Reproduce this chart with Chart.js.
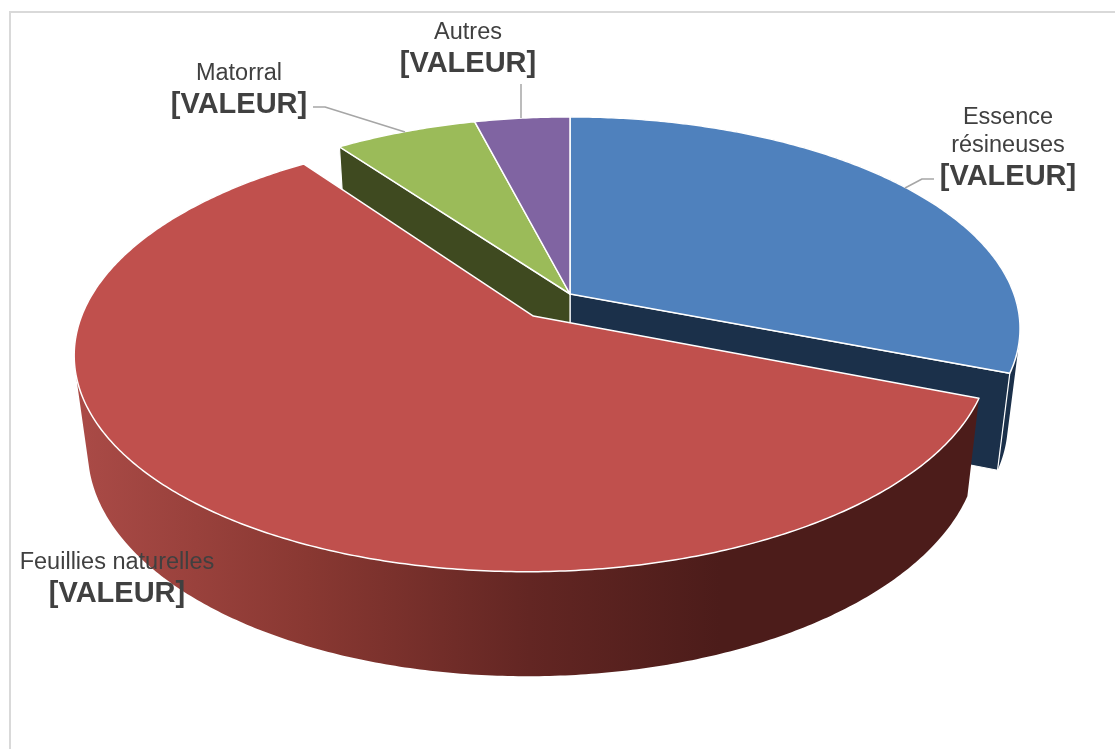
<!DOCTYPE html>
<html lang="fr">
<head>
<meta charset="utf-8">
<title>Répartition des essences</title>
<script src="https://cdn.jsdelivr.net/npm/chart.js@4"></script>
<style>
    html, body { margin: 0; padding: 0; background: #fff; }
    canvas { display: block; }
</style>
</head>
<body>
<canvas id="pieChart" width="1115" height="749"></canvas>
<script>
const categories = ['Essence résineuses', 'Feuillies naturelles', 'Matorral', 'Autres'];
const values = [30.9, 59.1, 6.0, 4.0];
const valueLabel = '[VALEUR]';
const topColors = ['#4F81BD', '#C0504D', '#9BBB59', '#8064A2'];
const sideColors = ['#1B304A', '#4C1C1A', '#3F4A20', '#3F2F55'];
const explode = [0, 59, 0, 0];

// label placement, one entry per slice: text lines then the leader line
const labelLayout = [
    { x: 1008, lines: [['Essence', 124], ['résineuses', 152]], valueY: 185, leader: [[934, 179], [922, 179], [905, 188]] },
    { x: 117, lines: [['Feuillies naturelles', 569]], valueY: 602, leader: null },
    { x: 239, lines: [['Matorral', 80]], valueY: 113, leader: [[313, 107], [325, 107], [405, 132]] },
    { x: 468, lines: [['Autres', 39]], valueY: 72, leader: [[521, 84], [521, 118]] },
];

// camera used to turn the flat pie into the tilted one
const view = { cx: 570, cy: 294, rx: 444, ry: 206, tilt: 0.163, depth: 96, sink: 0.027 };

function project(ux, uy, level) {
    const w = 1 / (1 - view.tilt * uy + view.sink * level);
    return {
        x: view.cx + view.rx * ux * w,
        y: view.cy + (view.ry * uy + view.depth * level) * w,
    };
}

function sliceGeometry(arc) {
    const d = arc.options.offset / view.rx;
    const mid = (arc.startAngle + arc.endAngle) / 2;
    return { ox: Math.cos(mid) * d, oy: Math.sin(mid) * d, start: arc.startAngle, end: arc.endAngle };
}

function rimPoints(g, from, to, level) {
    const pts = [];
    const steps = Math.max(2, Math.ceil(Math.abs(to - from) / 0.01));
    for (let i = 0; i <= steps; i++) {
        const a = from + (to - from) * i / steps;
        pts.push(project(g.ox + Math.cos(a), g.oy + Math.sin(a), level));
    }
    return pts;
}

function tracePath(ctx, pts) {
    ctx.beginPath();
    pts.forEach((p, i) => (i ? ctx.lineTo(p.x, p.y) : ctx.moveTo(p.x, p.y)));
    ctx.closePath();
}

function signedArea(pts) {
    let sum = 0;
    pts.forEach((p, i) => {
        const q = pts[(i + 1) % pts.length];
        sum += p.x * q.y - q.x * p.y;
    });
    return sum;
}

// the wall is swept quad by quad, all in one path, so the side silhouette stays filled
function drawWall(ctx, g, fill) {
    const top = rimPoints(g, g.start, g.end, 0);
    const bottom = rimPoints(g, g.start, g.end, 1);
    ctx.beginPath();
    for (let i = 0; i < top.length - 1; i++) {
        const quad = [top[i], top[i + 1], bottom[i + 1], bottom[i]];
        if (signedArea(quad) < 0) quad.reverse();
        quad.forEach((p, j) => (j ? ctx.lineTo(p.x, p.y) : ctx.moveTo(p.x, p.y)));
        ctx.closePath();
    }
    ctx.fillStyle = fill;
    ctx.fill();
}

function drawFace(ctx, g, angle, fill) {
    const rimTop = project(g.ox + Math.cos(angle), g.oy + Math.sin(angle), 0);
    const rimBottom = project(g.ox + Math.cos(angle), g.oy + Math.sin(angle), 1);
    tracePath(ctx, [project(g.ox, g.oy, 0), rimTop, rimBottom, project(g.ox, g.oy, 1)]);
    ctx.fillStyle = fill;
    ctx.fill();
    ctx.strokeStyle = '#fff';
    ctx.lineWidth = 1.2;
    ctx.stroke();
}

function drawTop(ctx, g, fill) {
    tracePath(ctx, [project(g.ox, g.oy, 0)].concat(rimPoints(g, g.start, g.end, 0)));
    ctx.fillStyle = fill;
    ctx.fill();
    ctx.strokeStyle = '#fff';
    ctx.lineWidth = 1.5;
    ctx.stroke();
}

const pie3d = {
    id: 'pie3d',
    beforeDatasetsDraw(chart) {
        const ctx = chart.ctx;
        const arcs = chart.getDatasetMeta(0).data;
        const geo = arcs.map(sliceGeometry);

        ctx.save();
        // chart frame: only top and left are in the crop
        ctx.strokeStyle = '#D9D9D9';
        ctx.lineWidth = 2;
        ctx.beginPath();
        ctx.moveTo(1115, 12);
        ctx.lineTo(10, 12);
        ctx.lineTo(10, 749);
        ctx.stroke();

        ctx.lineJoin = 'round';
        // back slices first
        drawWall(ctx, geo[0], sideColors[0]);
        drawFace(ctx, geo[0], geo[0].end, sideColors[0]);
        drawFace(ctx, geo[2], geo[2].start, sideColors[2]);
        drawTop(ctx, geo[0], topColors[0]);
        drawTop(ctx, geo[2], topColors[2]);
        drawTop(ctx, geo[3], topColors[3]);

        // big slice sits in front
        const shade = ctx.createLinearGradient(85, 0, 720, 0);
        shade.addColorStop(0, '#A94A46');
        shade.addColorStop(0.35, '#893832');
        shade.addColorStop(0.7, '#632623');
        shade.addColorStop(1, sideColors[1]);
        drawWall(ctx, geo[1], shade);
        drawTop(ctx, geo[1], topColors[1]);

        // labels and leader lines
        ctx.textAlign = 'center';
        ctx.textBaseline = 'alphabetic';
        ctx.fillStyle = '#404040';
        labelLayout.forEach(l => {
            if (l.leader) {
                ctx.strokeStyle = '#A6A6A6';
                ctx.lineWidth = 1.5;
                ctx.beginPath();
                l.leader.forEach((p, i) => (i ? ctx.lineTo(p[0], p[1]) : ctx.moveTo(p[0], p[1])));
                ctx.stroke();
            }
            ctx.font = '23.5px "Liberation Sans", Arial, sans-serif';
            l.lines.forEach(t => ctx.fillText(t[0], l.x, t[1]));
            ctx.font = 'bold 29px "Liberation Sans", Arial, sans-serif';
            ctx.fillText(valueLabel, l.x, l.valueY);
        });
        ctx.restore();
        return false; // arcs are already painted in perspective
    }
};

new Chart(document.getElementById('pieChart'), {
    type: 'pie',
    data: {
        labels: categories,
        datasets: [{ data: values, backgroundColor: topColors, offset: explode, borderColor: '#fff' }],
    },
    options: {
        responsive: false,
        animation: false,
        plugins: { legend: { display: false }, tooltip: { enabled: false } },
    },
    plugins: [pie3d],
});
</script>
</body>
</html>
